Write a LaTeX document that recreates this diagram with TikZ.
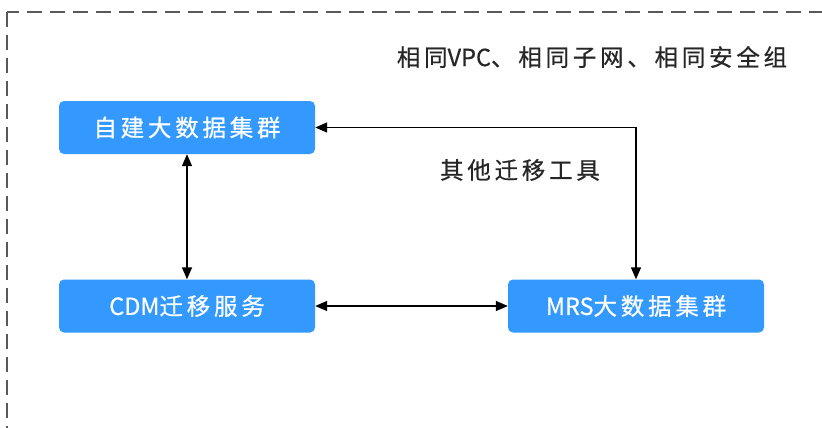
\documentclass[tikz,border=0pt]{standalone}
\usepackage{fontspec}
\newfontfamily\cjk[LetterSpace=16,FakeBold=0.6]{Noto Sans CJK SC}
\newfontfamily\lat[FakeBold=0.6]{Noto Sans CJK SC}
\usetikzlibrary{arrows.meta}
\definecolor{boxblue}{HTML}{3399FF}
\begin{document}
\begin{tikzpicture}[x=1pt,y=-1pt,
  clusterbox/.style={fill=boxblue, rounded corners=5pt, minimum width=256pt, minimum height=53pt, text=white, font=\cjk\fontsize{23.5}{27}\selectfont, inner sep=0pt},
  link/.style={line width=1.5pt, {Triangle[length=12pt,width=10pt]}-{Triangle[length=12pt,width=10pt]}},
  lbl/.style={font=\cjk\fontsize{23.5}{27}\selectfont, text=black!85, inner sep=0pt}]
\useasboundingbox (0,0) rectangle (822,428);
\clip (0,0) rectangle (822,428);
\draw[gray!70!black, line width=2pt, dash pattern=on 15pt off 8pt] (7,12) rectangle (840,450);
\node[clusterbox] (self) at (187,127.5) {自建大数据集群};
\node[clusterbox] (cdm) at (187,306) {{\lat CDM}迁移服务};
\node[clusterbox] (mrs) at (636,306) {{\lat MRS}大数据集群};
\draw[link] (self) -- (cdm);
\draw[link] (cdm) -- (mrs);
\draw[link] (self.east) -| (mrs.north);
\node[lbl] (net) at (592,57) {相同{\lat VPC}、相同子网、相同安全组};
\node[lbl] (tool) at (520,170) {其他迁移工具};
\end{tikzpicture}
\end{document}
